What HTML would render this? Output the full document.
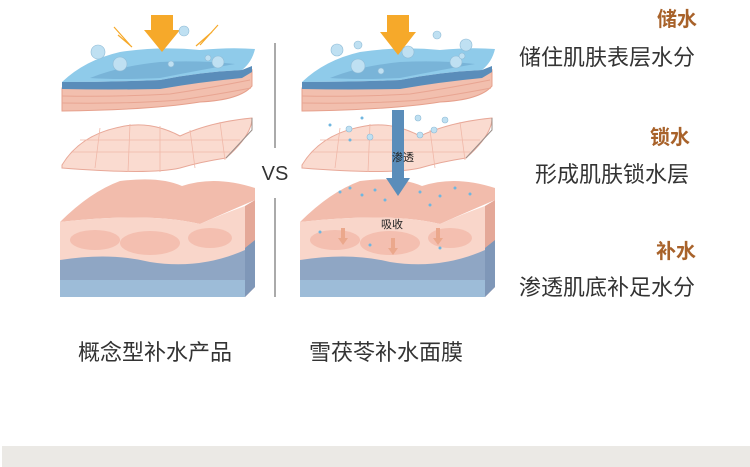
<!DOCTYPE html>
<html><head><meta charset="utf-8"><style>
html,body{margin:0;padding:0;background:#fff;}
body{width:750px;height:467px;position:relative;overflow:hidden;font-family:"Liberation Sans","Noto Sans CJK SC",sans-serif;}
.t{position:absolute;white-space:nowrap;line-height:1;}
.h{color:#a8622a;font-weight:bold;font-size:20px;}
.b{color:#333;font-size:22px;}
</style></head><body>
<svg width="750" height="467" style="position:absolute;left:0;top:0">
<defs>
<g id="skin">
 <path d="M62,88 Q110,88 160,88 Q200,80 242,76 L252,70 L252,86 Q240,100 200,102 Q150,110 62,111Z" fill="#f2bfae" stroke="#e6a08c" stroke-width="1"/>
 <path d="M62,96 Q120,97 170,94 Q210,88 250,80 M62,103 Q130,104 180,100 Q220,94 251,88" stroke="#e8a592" fill="none"/>
 <path d="M62,82 Q85,60 120,52 Q160,46 200,50 Q230,47 255,49 Q252,62 242,70 Q200,72 160,80 Q110,82 62,82Z" fill="#8fcbea"/>
 <path d="M90,78 Q120,66 160,62 Q200,60 235,64 Q200,70 160,78 Q120,80 90,78Z" fill="#6fa9d0" opacity="0.7"/>
 <path d="M62,82 Q110,82 160,80 Q200,72 242,70 L252,66 L252,72 L242,78 Q200,82 160,89 Q110,90 62,89Z" fill="#5a8dba"/>
 <path d="M62,165 Q80,135 120,127 Q150,120 180,136 Q210,122 252,118 Q252,135 226,158 Q200,162 180,168 Q150,175 62,168Z" fill="#fadbd0" stroke="#e8a898"/>
 <path d="M80,140 L240,140 M72,152 L230,152 M100,128 L95,168 M130,124 L128,172 M160,126 L160,172 M190,130 L195,168 M220,122 L225,160" stroke="#f0b8a8" stroke-width="0.8" fill="none"/>
 <path d="M226,158 L252,130 L252,118" stroke="#9a8f8a" fill="none"/>
 <path d="M60,222 Q90,192 120,181 Q160,176 182,186 Q215,175 255,188 L255,200 Q220,215 200,224 Q150,212 60,222Z" fill="#f2bcac"/>
 <path d="M60,222 Q150,212 200,224 Q220,215 245,206 L245,297 L60,297Z" fill="#f9d6ca"/>
 <ellipse cx="95" cy="240" rx="25" ry="10" fill="#f4bfb0"/>
 <ellipse cx="150" cy="243" rx="30" ry="12" fill="#f4bfb0"/>
 <ellipse cx="210" cy="238" rx="22" ry="10" fill="#f4bfb0"/>
 <path d="M60,260 Q110,252 150,262 Q200,270 245,250 L245,297 L60,297Z" fill="#8fa6c4"/>
 <path d="M60,280 L245,280 L245,297 L60,297Z" fill="#9dbcd8"/>
 <path d="M245,206 L255,200 L255,287 L245,297Z" fill="#e4a898"/>
 <path d="M245,248 L255,240 L255,287 L245,297Z" fill="#7f97b8"/>
</g>
</defs>
<use href="#skin"/>
<use href="#skin" transform="translate(240,0)"/>
<path d="M151,15 L173,15 L173,30 L180,30 L162,52 L144,30 L151,30Z" fill="#f6a92a"/>
<path d="M114,27 L130,45 M118,35 L132,47 M218,25 L200,45 M212,32 L196,46" stroke="#f6a92a" stroke-width="1.2"/>
<g fill="#bfe0f2" stroke="#8fbbd6" stroke-width="0.6">
<circle cx="98" cy="52" r="7"/><circle cx="120" cy="64" r="7"/><circle cx="184" cy="31" r="5"/><circle cx="218" cy="62" r="6"/><circle cx="208" cy="58" r="3"/><circle cx="171" cy="64" r="3"/>
</g>
<path d="M275,43 L275,148 M275,198 L275,297" stroke="#555" stroke-width="1"/>
<text x="275" y="180" font-size="20" text-anchor="middle" fill="#333" font-family="Liberation Sans">VS</text>
<path d="M387,15 L409,15 L409,32 L416,32 L398,55 L380,32 L387,32Z" fill="#f6a92a"/>
<path d="M392,110 L404,110 L404,178 L410,178 L398,196 L386,178 L392,178Z" fill="#5a8dba"/>
<g fill="#bfe0f2" stroke="#8fbbd6" stroke-width="0.6">
<circle cx="337" cy="50" r="6"/><circle cx="358" cy="45" r="4"/><circle cx="358" cy="66" r="7"/><circle cx="408" cy="52" r="6"/><circle cx="466" cy="45" r="6"/><circle cx="456" cy="62" r="6"/><circle cx="437" cy="35" r="4"/><circle cx="381" cy="71" r="3"/><circle cx="462" cy="56" r="3"/>
<circle cx="349" cy="129" r="3"/><circle cx="370" cy="137" r="3"/><circle cx="418" cy="118" r="3"/><circle cx="434" cy="130" r="3"/><circle cx="445" cy="120" r="3"/><circle cx="420" cy="135" r="3"/>
</g>
<g fill="#6fb6e0">
<circle cx="340" cy="192" r="1.5"/><circle cx="350" cy="188" r="1.5"/><circle cx="362" cy="195" r="1.5"/><circle cx="375" cy="190" r="1.5"/><circle cx="420" cy="192" r="1.5"/><circle cx="440" cy="196" r="1.5"/><circle cx="455" cy="188" r="1.5"/><circle cx="470" cy="194" r="1.5"/><circle cx="385" cy="200" r="1.5"/><circle cx="430" cy="205" r="1.5"/><circle cx="320" cy="232" r="1.5"/><circle cx="370" cy="245" r="1.5"/><circle cx="440" cy="248" r="1.5"/><circle cx="350" cy="140" r="1.5"/><circle cx="330" cy="125" r="1.5"/><circle cx="362" cy="118" r="1.5"/>
</g>
<g fill="#eba88c">
<path d="M341,228 L345,228 L345,238 L348,238 L343,245 L338,238 L341,238Z"/>
<path d="M391,238 L395,238 L395,248 L398,248 L393,255 L388,248 L391,248Z"/>
<path d="M436,228 L440,228 L440,238 L443,238 L438,245 L433,238 L436,238Z"/>
</g>
<text x="403" y="161" font-size="11" text-anchor="middle" fill="#222" font-family="Noto Sans CJK SC,sans-serif">渗透</text>
<text x="392" y="228" font-size="11" text-anchor="middle" fill="#222" font-family="Noto Sans CJK SC,sans-serif">吸收</text>
<rect x="2" y="446" width="748" height="21" fill="#ebe9e5"/>
</svg>
<div class="t h" style="right:53px;top:10px">储水</div>
<div class="t b" style="left:519px;top:47px">储住肌肤表层水分</div>
<div class="t h" style="right:60px;top:128px">锁水</div>
<div class="t b" style="left:535px;top:164px">形成肌肤锁水层</div>
<div class="t h" style="right:54px;top:242px">补水</div>
<div class="t b" style="left:519px;top:277px">渗透肌底补足水分</div>
<div class="t b" style="left:78px;top:342px">概念型补水产品</div>
<div class="t b" style="left:309px;top:342px">雪茯苓补水面膜</div>
</body></html>
